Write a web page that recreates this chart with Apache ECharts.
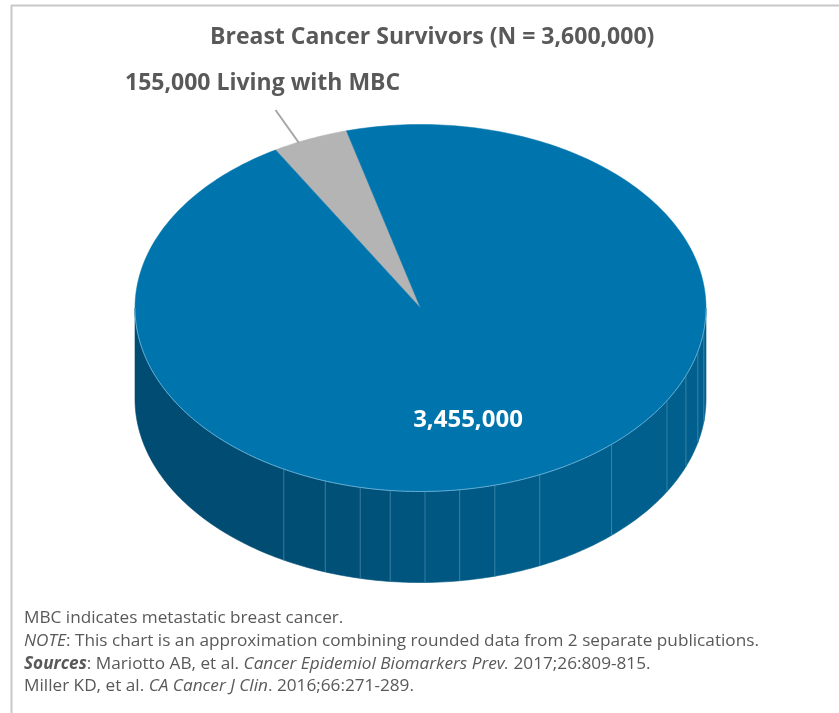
<!DOCTYPE html>
<html>
<head>
<meta charset="utf-8">
<script src="https://cdn.jsdelivr.net/npm/echarts@6/dist/echarts.min.js"></script>
<style>
html,body{margin:0;padding:0;background:#fff;}
#chart{width:839px;height:713px;}
</style>
</head>
<body>
<div id="chart"></div>
<script>
// ---- data ----
const categories = ['Living with MBC', 'Without MBC'];
const values = [155000, 3455000];
const sliceLabels = ['155,000 Living with MBC', '3,455,000'];
const titleText = 'Breast Cancer Survivors (N = 3,600,000)';

// ---- geometry / style ----
const G = { cx: 420.5, cy: 308, rx: 285.5, ry: 183.5, depth: 91, startAngle: 120.5 };
const topColors = ['#B4B4B4', '#0075AD'];
const facetBounds = [180, 241.4, 250.5, 257.8, 263.9, 270.9, 277.9, 285.1, 294.7, 312, 329.7, 338.4, 346.3, 353, 360];
const FONT = '"Open Sans", Roboto, sans-serif';
const TXT = '#595959';

const total = values.reduce((a, b) => a + b, 0);
function pt(theta, dy) {
  const r = theta * Math.PI / 180;
  return [G.cx + G.rx * Math.cos(r), G.cy - G.ry * Math.sin(r) + (dy || 0)];
}
function sideShade(base, mid) {
  const dark = base === 0 ? [0x8c, 0x8c, 0x8c] : [0x00, 0x4c, 0x72];
  const light = base === 0 ? [0x9c, 0x9c, 0x9c] : [0x00, 0x5f, 0x8c];
  let t = (mid - 241) / (300 - 241);
  t = Math.max(0, Math.min(1, t));
  const c = dark.map((d, i) => Math.round(d + (light[i] - d) * t));
  return 'rgb(' + c.join(',') + ')';
}

function renderItem(params, api) {
  const idx = params.dataIndex;
  const v = api.value(0);
  let cum = 0;
  for (let i = 0; i < idx; i++) cum += values[i];
  const a0 = G.startAngle - cum / total * 360;   // clockwise
  const span = v / total * 360;
  const a1 = a0 - span;
  const children = [];

  // side facets (front half only)
  for (let f = 0; f < facetBounds.length - 1; f++) {
    for (let k = -2; k <= 1; k++) {
      const b0 = facetBounds[f] + k * 360, b1 = facetBounds[f + 1] + k * 360;
      const lo = Math.max(b0, a1), hi = Math.min(b1, a0);
      if (hi - lo <= 0.01) continue;
      const pts = [];
      const n = Math.max(2, Math.ceil((hi - lo) / 1));
      for (let i = 0; i <= n; i++) pts.push(pt(lo + (hi - lo) * i / n));
      for (let i = n; i >= 0; i--) pts.push(pt(lo + (hi - lo) * i / n, G.depth));
      const mid = ((lo + hi) / 2 % 360 + 360) % 360;
      const col = sideShade(idx === 0 ? 0 : 1, mid);
      children.push({ type: 'polygon', z2: 1, shape: { points: pts },
        style: { fill: col, stroke: col, lineWidth: 0.6 } });
      if (facetBounds[f] >= 241 && lo === b0) {
        const p = pt(lo), q = pt(lo, G.depth);
        children.push({ type: 'line', z2: 2, shape: { x1: p[0], y1: p[1], x2: q[0], y2: q[1] },
          style: { stroke: 'rgba(140,190,220,0.45)', lineWidth: 0.8 } });
      }
    }
  }

  // top face
  const topPts = [[G.cx, G.cy]];
  const steps = Math.max(2, Math.ceil(span));
  for (let i = 0; i <= steps; i++) topPts.push(pt(a0 - span * i / steps));
  children.push({ type: 'polygon', z2: 5, shape: { points: topPts },
    style: { fill: topColors[idx], stroke: topColors[idx], lineWidth: 0.5 } });

  // light rim along the front edge
  for (let k = -2; k <= 1; k++) {
    const lo = Math.max(180 + k * 360, a1), hi = Math.min(360 + k * 360, a0);
    if (hi - lo <= 0.01) continue;
    const n = Math.ceil(hi - lo);
    const seg = [];
    for (let i = 0; i <= n; i++) seg.push(pt(lo + (hi - lo) * i / n));
    children.push({ type: 'polyline', z2: 6, shape: { points: seg },
      style: { stroke: 'rgba(120,185,220,0.9)', lineWidth: 0.9, fill: null } });
  }

  // labels
  if (idx === 0) {
    children.push({ type: 'line', z2: 8, shape: { x1: 275.5, y1: 110, x2: 299, y2: 143 },
      style: { stroke: '#A6A6A6', lineWidth: 2 } });
    children.push({ type: 'text', z2: 10, x: 125, y: 83,
      style: { text: sliceLabels[idx], fill: TXT, font: 'bold 23px ' + FONT,
        textAlign: 'left', textVerticalAlign: 'middle' } });
  } else {
    children.push({ type: 'text', z2: 10, x: 468, y: 420,
      style: { text: sliceLabels[idx], fill: '#FFFFFF', font: 'bold 24px ' + FONT,
        textAlign: 'center', textVerticalAlign: 'middle' } });
  }
  return { type: 'group', children: children };
}

const chart = echarts.init(document.getElementById('chart'), null, { renderer: 'canvas' });
const fs = 17.2;
function rs(extra) { return Object.assign({ fontSize: fs, fontFamily: FONT, fill: TXT }, extra || {}); }
chart.setOption({
  animation: false,
  backgroundColor: '#ffffff',
  title: {
    text: titleText, left: 205, top: 21,
    textStyle: { color: TXT, fontSize: 23, fontWeight: 'bold', fontFamily: FONT }
  },
  series: [{
    type: 'custom',
    coordinateSystem: 'none',
    silent: true,
    renderItem: renderItem,
    data: values.map((v, i) => ({ name: categories[i], value: [v] }))
  }],
  graphic: [
    { type: 'line', shape: { x1: 11, y1: 5.5, x2: 839, y2: 5.5 }, style: { stroke: '#C8C8C8', lineWidth: 2 } },
    { type: 'line', shape: { x1: 11.5, y1: 5, x2: 11.5, y2: 713 }, style: { stroke: '#C8C8C8', lineWidth: 2 } },
    { type: 'text', left: 24, top: 610, style: {
      text: '{r|MBC indicates metastatic breast cancer.}',
      rich: { r: rs() } } },
    { type: 'text', left: 24, top: 633, style: {
      text: '{i|NOTE}{r|: This chart is an approximation combining rounded data from 2 separate publications.}',
      rich: { i: rs({ fontStyle: 'italic' }), r: rs() } } },
    { type: 'text', left: 24, top: 656, style: {
      text: '{b|Sources}{r|: Mariotto AB, et al. }{i|Cancer Epidemiol Biomarkers Prev.}{r| 2017;26:809-815.}',
      rich: { b: rs({ fontStyle: 'italic', fontWeight: 'bold' }), i: rs({ fontStyle: 'italic' }), r: rs() } } },
    { type: 'text', left: 24, top: 678, style: {
      text: '{r|Miller KD, et al. }{i|CA Cancer J Clin}{r|. 2016;66:271-289.}',
      rich: { i: rs({ fontStyle: 'italic' }), r: rs() } } }
  ]
});
</script>
</body>
</html>
